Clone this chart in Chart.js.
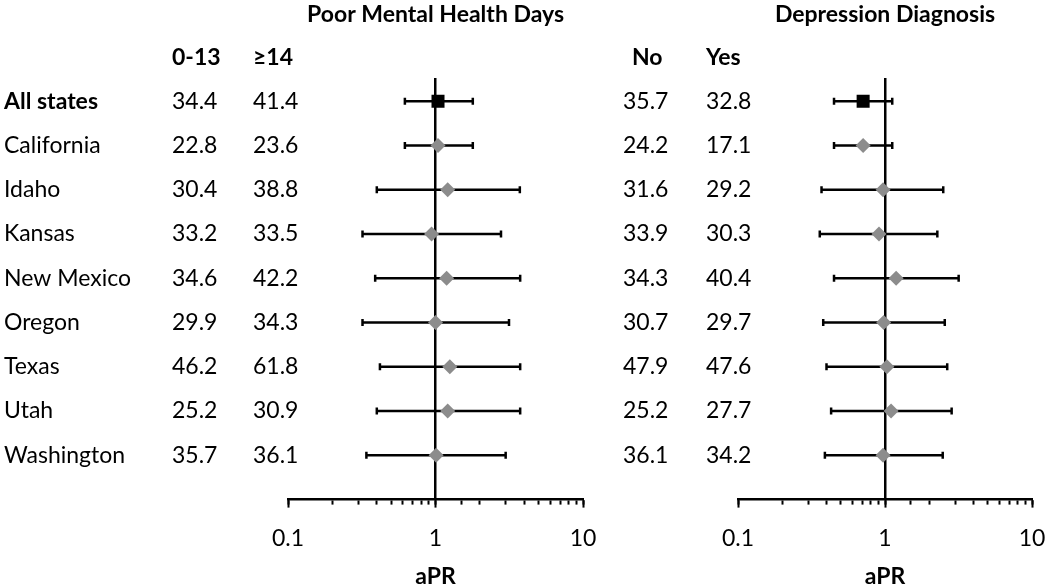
<!DOCTYPE html>
<html>
<head>
<meta charset="utf-8">
<title>aPR by state</title>
<script src="https://cdn.jsdelivr.net/npm/chart.js@4.4.1/dist/chart.umd.min.js"></script>
<style>
  html, body { margin: 0; padding: 0; background: #fff; }
  #wrap { position: relative; width: 1050px; height: 588px; }
  #wrap canvas { position: absolute; left: 0; top: 0; }
</style>
</head>
<body>
<div id="wrap">
  <canvas id="mental" width="1050" height="588"></canvas>
  <canvas id="depression" width="1050" height="588"></canvas>
</div>
<script>
// rows, top to bottom
const states = ["All states", "California", "Idaho", "Kansas", "New Mexico", "Oregon", "Texas", "Utah", "Washington"];

// table columns (%)
const mental013 = [34.4, 22.8, 30.4, 33.2, 34.6, 29.9, 46.2, 25.2, 35.7];
const mental14 = [41.4, 23.6, 38.8, 33.5, 42.2, 34.3, 61.8, 30.9, 36.1];
const depNo = [35.7, 24.2, 31.6, 33.9, 34.3, 30.7, 47.9, 25.2, 36.1];
const depYes = [32.8, 17.1, 29.2, 30.3, 40.4, 29.7, 47.6, 27.7, 34.2];

// aPR with 95% CI
const mentalAPR = [1.04, 1.04, 1.21, 0.94, 1.19, 1.0, 1.25, 1.21, 1.01];
const mentalLower = [0.62, 0.62, 0.40, 0.32, 0.39, 0.32, 0.42, 0.40, 0.34];
const mentalUpper = [1.79, 1.79, 3.73, 2.78, 3.75, 3.15, 3.75, 3.75, 2.99];

const depAPR = [0.71, 0.71, 0.97, 0.91, 1.19, 0.98, 1.03, 1.10, 0.97];
const depLower = [0.45, 0.45, 0.37, 0.36, 0.45, 0.38, 0.40, 0.43, 0.39];
const depUpper = [1.12, 1.12, 2.49, 2.27, 3.17, 2.55, 2.65, 2.84, 2.47];

const xTickLabels = [0.1, 1, 10];

const FONT = "Lato";
const SIZE = 23;

const isLabelled = (v) => xTickLabels.some((t) => Math.abs(t - v) < 1e-9);

// draws the table text next to the plot, rows follow the y scale
const tableText = {
  id: "tableText",
  afterDraw(chart, args, opts) {
    const ctx = chart.ctx;
    const yScale = chart.scales.y;
    const xScale = chart.scales.x;
    ctx.save();
    ctx.fillStyle = "#000";
    ctx.textBaseline = "middle";

    // panel title, centred over aPR = 1
    ctx.font = `bold ${SIZE}px ${FONT}`;
    ctx.textAlign = "center";
    ctx.fillText(opts.title, xScale.getPixelForValue(1), 15);

    // column headers
    ctx.textAlign = "left";
    opts.headers.forEach((h, c) => {
      ctx.fillText(h, opts.headerX[c], 58);
    });

    states.forEach((name, i) => {
      const y = yScale.getPixelForValue(i);
      if (opts.showNames) {
        ctx.font = i === 0 ? `bold ${SIZE}px ${FONT}` : `${SIZE}px ${FONT}`;
        ctx.fillText(name, 4, y);
      }
      ctx.font = `${SIZE}px ${FONT}`;
      opts.columns.forEach((col, c) => {
        ctx.fillText(col[i].toFixed(1), opts.colX[c], y);
      });
    });
    ctx.restore();
  },
};

function makePanel(canvasId, apr, lower, upper, padLeft, padRight, text) {
  // whiskers: one segment per row, broken by a null point
  const whiskers = [];
  states.forEach((_, i) => {
    whiskers.push({ x: lower[i], y: i });
    whiskers.push({ x: upper[i], y: i });
    whiskers.push({ x: null, y: null });
  });

  new Chart(document.getElementById(canvasId), {
    type: "scatter",
    data: {
      datasets: [
        {
          label: "aPR",
          data: apr.map((v, i) => ({ x: v, y: i })),
          pointStyle: apr.map((_, i) => (i === 0 ? "rect" : "rectRot")),
          pointRadius: apr.map((_, i) => (i === 0 ? 9.2 : 7.5)),
          backgroundColor: apr.map((_, i) => (i === 0 ? "#000000" : "#8c8c8c")),
          pointBorderWidth: 0,
          order: 0,
        },
        {
          label: "95% CI",
          data: whiskers,
          showLine: true,
          spanGaps: false,
          borderColor: "#000",
          borderWidth: 2.5,
          pointStyle: "line",
          pointRotation: 90,
          pointRadius: 3.5,
          pointBorderColor: "#000",
          pointBorderWidth: 2.5,
          order: 1,
        },
      ],
    },
    options: {
      responsive: false,
      animation: false,
      events: [],
      layout: { padding: { left: padLeft, right: padRight, top: 79, bottom: 0 } },
      plugins: {
        legend: { display: false },
        tooltip: { enabled: false },
        tableText: text,
      },
      scales: {
        x: {
          type: "logarithmic",
          position: "bottom",
          min: 0.1,
          max: 10,
          afterFit: (scale) => {
            // keep the plot width set by the layout padding only
            scale.paddingLeft = 0;
            scale.paddingRight = 0;
          },
          grid: {
            display: true,
            drawOnChartArea: false,
            drawTicks: true,
            tickLength: 5,
            tickWidth: 2,
            tickColor: "#000",
          },
          border: { display: true, color: "#000", width: 2.5 },
          ticks: {
            autoSkip: false,
            maxRotation: 0,
            padding: 20.4,
            color: "#000",
            font: { family: FONT, size: SIZE },
            callback: (v) => (isLabelled(v) ? String(v) : ""),
          },
          title: {
            display: true,
            text: "aPR",
            color: "#000",
            font: { family: FONT, size: SIZE, weight: "bold", lineHeight: "7px" },
            padding: { top: 0, bottom: 8 },
          },
        },
        // longer marks at the decades
        xMajor: {
          type: "logarithmic",
          position: "bottom",
          weight: -1,
          min: 0.1,
          max: 10,
          afterFit: (scale) => {
            scale.height = 0;
            scale.paddingLeft = 0;
            scale.paddingRight = 0;
          },
          grid: {
            display: true,
            drawOnChartArea: false,
            drawTicks: true,
            tickLength: 8,
            tickWidth: 2,
            tickColor: (ctx) => (ctx.tick && isLabelled(ctx.tick.value) ? "#000" : "rgba(0,0,0,0)"),
          },
          border: { display: false },
          ticks: { display: false, autoSkip: false },
        },
        y: {
          type: "linear",
          reverse: true,
          min: -0.5,
          max: 9,
          position: { x: 1 },
          afterFit: (scale) => {
            scale.width = 0;
          },
          grid: { display: false, drawTicks: false },
          ticks: { display: false },
          border: { display: true, color: "#000", width: 2.5 },
        },
      },
    },
    plugins: [tableText],
  });
}

makePanel("mental", mentalAPR, mentalLower, mentalUpper, 288, 1050 - 583, {
  title: "Poor Mental Health Days",
  headers: ["0-13", "≥14"],
  headerX: [172, 253],
  columns: [mental013, mental14],
  colX: [172, 253],
  showNames: true,
});

makePanel("depression", depAPR, depLower, depUpper, 738, 1050 - 1032, {
  title: "Depression Diagnosis",
  headers: ["No", "Yes"],
  headerX: [632, 706],
  columns: [depNo, depYes],
  colX: [623, 706],
  showNames: false,
});
</script>
</body>
</html>
